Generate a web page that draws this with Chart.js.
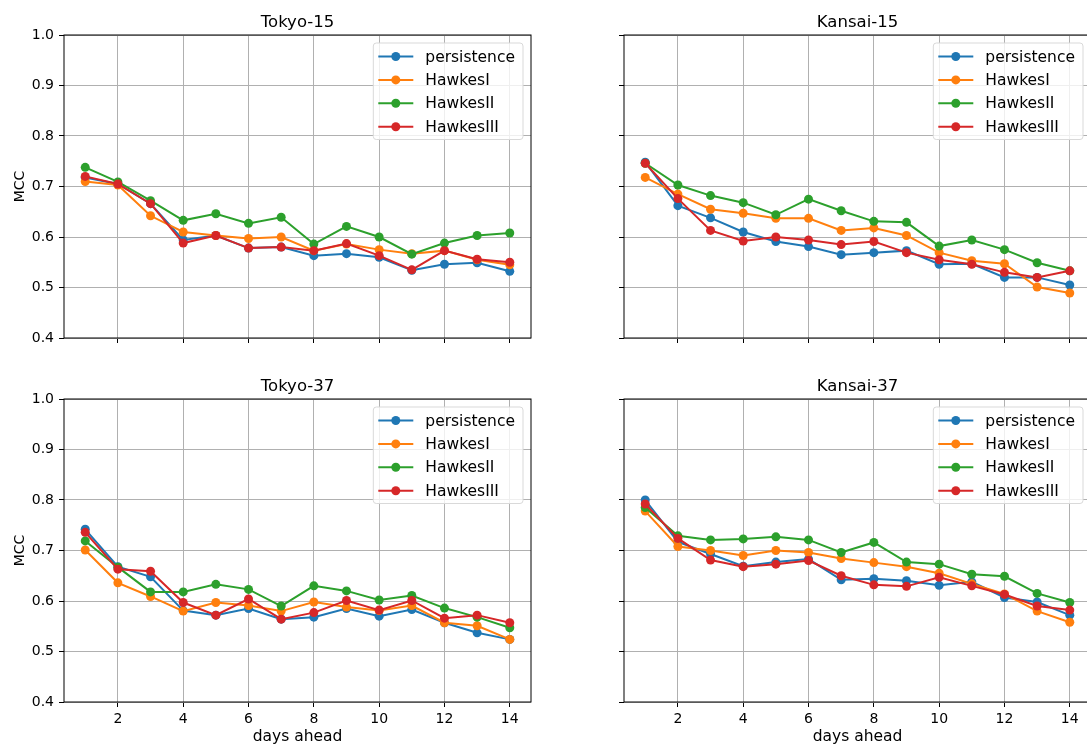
<!DOCTYPE html>
<html>
<head>
<meta charset="utf-8">
<script src="https://cdn.jsdelivr.net/npm/chart.js@4.4.0/dist/chart.umd.min.js"></script>
<style>
  html, body { margin: 0; padding: 0; background: #fff; overflow: hidden; width: 1087px; height: 746px; }
  canvas { position: absolute; }
</style>
</head>
<body>
<canvas id="tokyo15"></canvas>
<canvas id="kansai15"></canvas>
<canvas id="tokyo37"></canvas>
<canvas id="kansai37"></canvas>
<script>
// Forecast horizon and axis ticks
const days = [1, 2, 3, 4, 5, 6, 7, 8, 9, 10, 11, 12, 13, 14];
const xTickValues = [2, 4, 6, 8, 10, 12, 14];
const yTickValues = [0.4, 0.5, 0.6, 0.7, 0.8, 0.9, 1.0];
const seriesNames = ['persistence', 'HawkesI', 'HawkesII', 'HawkesIII'];
const seriesColors = ['#1f77b4', '#ff7f0e', '#2ca02c', '#d62728'];
const panelTitles = ['Tokyo-15', 'Kansai-15', 'Tokyo-37', 'Kansai-37'];

// MCC per forecast day — Tokyo-15
const tokyo15Persistence = [0.718, 0.705, 0.666, 0.594, 0.603, 0.578, 0.580, 0.563, 0.567, 0.560, 0.534, 0.546, 0.549, 0.532];
const tokyo15HawkesI     = [0.710, 0.703, 0.642, 0.610, 0.603, 0.597, 0.600, 0.573, 0.586, 0.575, 0.567, 0.573, 0.555, 0.545];
const tokyo15HawkesII    = [0.738, 0.709, 0.672, 0.633, 0.646, 0.627, 0.639, 0.586, 0.621, 0.600, 0.566, 0.588, 0.603, 0.608];
const tokyo15HawkesIII   = [0.720, 0.705, 0.666, 0.588, 0.603, 0.578, 0.580, 0.573, 0.587, 0.563, 0.535, 0.573, 0.556, 0.550];

// Kansai-15
const kansai15Persistence = [0.748, 0.662, 0.638, 0.610, 0.591, 0.581, 0.565, 0.569, 0.573, 0.546, 0.547, 0.520, 0.520, 0.505];
const kansai15HawkesI     = [0.718, 0.685, 0.655, 0.647, 0.637, 0.637, 0.613, 0.618, 0.603, 0.569, 0.553, 0.547, 0.501, 0.489];
const kansai15HawkesII    = [0.746, 0.703, 0.682, 0.668, 0.644, 0.675, 0.652, 0.631, 0.629, 0.582, 0.594, 0.575, 0.549, 0.533];
const kansai15HawkesIII   = [0.746, 0.676, 0.613, 0.592, 0.600, 0.594, 0.585, 0.591, 0.569, 0.555, 0.546, 0.530, 0.520, 0.533];

// Tokyo-37
const tokyo37Persistence = [0.742, 0.668, 0.648, 0.581, 0.572, 0.585, 0.564, 0.568, 0.585, 0.570, 0.583, 0.557, 0.537, 0.524];
const tokyo37HawkesI     = [0.701, 0.636, 0.609, 0.580, 0.597, 0.591, 0.580, 0.598, 0.588, 0.581, 0.591, 0.557, 0.551, 0.524];
const tokyo37HawkesII    = [0.719, 0.667, 0.618, 0.618, 0.633, 0.623, 0.590, 0.630, 0.620, 0.602, 0.611, 0.586, 0.568, 0.547];
const tokyo37HawkesIII   = [0.736, 0.663, 0.659, 0.597, 0.572, 0.604, 0.564, 0.577, 0.601, 0.582, 0.601, 0.566, 0.572, 0.557];

// Kansai-37
const kansai37Persistence = [0.800, 0.717, 0.693, 0.669, 0.677, 0.683, 0.642, 0.644, 0.640, 0.631, 0.638, 0.607, 0.598, 0.572];
const kansai37HawkesI     = [0.778, 0.708, 0.700, 0.690, 0.700, 0.696, 0.684, 0.676, 0.668, 0.655, 0.634, 0.614, 0.580, 0.558];
const kansai37HawkesII    = [0.785, 0.729, 0.721, 0.723, 0.727, 0.721, 0.696, 0.716, 0.677, 0.673, 0.653, 0.649, 0.615, 0.597];
const kansai37HawkesIII   = [0.792, 0.724, 0.681, 0.668, 0.673, 0.680, 0.650, 0.632, 0.629, 0.647, 0.630, 0.613, 0.590, 0.582];

const FONT = 'DejaVu Sans';

const panels = [
  { id: 'tokyo15',  title: panelTitles[0], series: [tokyo15Persistence, tokyo15HawkesI, tokyo15HawkesII, tokyo15HawkesIII],
    left: 0,   top: 0,   width: 550, height: 372, padTop: 35, padRight: 19, xAxisH: 34, yLabels: true,  xLabels: false },
  { id: 'kansai15', title: panelTitles[1], series: [kansai15Persistence, kansai15HawkesI, kansai15HawkesII, kansai15HawkesIII],
    left: 560, top: 0,   width: 545, height: 372, padTop: 35, padRight: 14, xAxisH: 34, yLabels: false, xLabels: false },
  { id: 'tokyo37',  title: panelTitles[2], series: [tokyo37Persistence, tokyo37HawkesI, tokyo37HawkesII, tokyo37HawkesIII],
    left: 0,   top: 372, width: 550, height: 374, padTop: 27, padRight: 19, xAxisH: 44, yLabels: true,  xLabels: true },
  { id: 'kansai37', title: panelTitles[3], series: [kansai37Persistence, kansai37HawkesI, kansai37HawkesII, kansai37HawkesIII],
    left: 560, top: 372, width: 545, height: 374, padTop: 27, padRight: 14, xAxisH: 44, yLabels: false, xLabels: true }
];

// Frame, titles, axis labels and an inset legend
const decorPlugin = {
  id: 'decor',
  afterDatasetsDraw(chart, args, opts) {
    const ctx = chart.ctx;
    const a = chart.chartArea;
    ctx.save();
    // axes frame
    ctx.strokeStyle = '#000';
    ctx.lineWidth = 1;
    ctx.strokeRect(a.left, a.top, a.right - a.left, a.bottom - a.top);

    // subplot title
    ctx.fillStyle = '#000';
    ctx.font = '16.5px "' + FONT + '"';
    ctx.textAlign = 'center';
    ctx.textBaseline = 'alphabetic';
    ctx.fillText(opts.title, (a.left + a.right) / 2, a.top - 8);

    // axis labels
    if (opts.yLabels) {
      ctx.save();
      ctx.font = '14px "' + FONT + '"';
      ctx.translate(20, (a.top + a.bottom) / 2);
      ctx.rotate(-Math.PI / 2);
      ctx.textBaseline = 'middle';
      ctx.fillText('MCC', 0, 0);
      ctx.restore();
    }
    if (opts.xLabels) {
      ctx.font = '15.5px "' + FONT + '"';
      ctx.textBaseline = 'alphabetic';
      ctx.fillText('days ahead', (a.left + a.right) / 2, a.bottom + 39);
    }

    // legend
    const fs = 15.5;
    ctx.font = fs + 'px "' + FONT + '"';
    const ds = chart.data.datasets;
    let maxW = 0;
    ds.forEach(d => { maxW = Math.max(maxW, ctx.measureText(d.label).width); });
    const boxW = 52 + maxW + 8;
    const boxH = 96.5;
    const bx = a.right - 8 - boxW;
    const by = a.top + 8;
    ctx.beginPath();
    ctx.roundRect(bx, by, boxW, boxH, 3);
    ctx.fillStyle = 'rgba(255,255,255,0.8)';
    ctx.fill();
    ctx.strokeStyle = '#d9d9d9';
    ctx.lineWidth = 1;
    ctx.stroke();
    ds.forEach((d, i) => {
      const ry = by + 13.5 + i * 23.4;
      ctx.strokeStyle = d.borderColor;
      ctx.lineWidth = 2;
      ctx.beginPath();
      ctx.moveTo(bx + 5, ry);
      ctx.lineTo(bx + 40, ry);
      ctx.stroke();
      ctx.fillStyle = d.borderColor;
      ctx.beginPath();
      ctx.arc(bx + 22.5, ry, 4.5, 0, Math.PI * 2);
      ctx.fill();
      ctx.fillStyle = '#000';
      ctx.textAlign = 'left';
      ctx.textBaseline = 'middle';
      ctx.fillText(d.label, bx + 52, ry + 1);
    });
    ctx.restore();
  }
};

function buildPanel(p) {
  const canvas = document.getElementById(p.id);
  canvas.width = p.width;
  canvas.height = p.height;
  canvas.style.left = p.left + 'px';
  canvas.style.top = p.top + 'px';
  canvas.style.width = p.width + 'px';
  canvas.style.height = p.height + 'px';

  const datasets = p.series.map((vals, i) => ({
    label: seriesNames[i],
    data: days.map((d, k) => ({ x: d, y: vals[k] })),
    borderColor: seriesColors[i],
    backgroundColor: seriesColors[i],
    pointBackgroundColor: seriesColors[i],
    pointBorderColor: seriesColors[i],
    pointBorderWidth: 0,
    pointRadius: 4.5,
    borderWidth: 2,
    tension: 0,
    order: seriesNames.length - 1 - i
  }));

  const tickFont = { family: FONT, size: 14 };

  new Chart(canvas, {
    type: 'line',
    data: { datasets },
    options: {
      responsive: false,
      animation: false,
      devicePixelRatio: 1,
      events: [],
      layout: { padding: { left: 0, top: p.padTop, right: p.padRight, bottom: 0 } },
      plugins: {
        legend: { display: false },
        title: { display: false },
        tooltip: { enabled: false },
        decor: { title: p.title, yLabels: p.yLabels, xLabels: p.xLabels }
      },
      scales: {
        x: {
          type: 'linear',
          min: 0.35,
          max: 14.65,
          afterBuildTicks: s => { s.ticks = xTickValues.map(v => ({ value: v })); },
          afterFit: s => { s.height = p.xAxisH; },
          ticks: {
            autoSkip: false, maxRotation: 0, padding: 4, color: '#000', font: tickFont,
            callback: v => (p.xLabels ? String(v) : '')
          },
          grid: { color: '#b0b0b0', lineWidth: 1, tickColor: '#000', tickLength: 5, drawTicks: true },
          border: { display: false }
        },
        y: {
          type: 'linear',
          min: 0.4,
          max: 1.0,
          afterBuildTicks: s => { s.ticks = yTickValues.map(v => ({ value: v })); },
          afterFit: s => { s.width = 64; },
          ticks: {
            padding: 5, color: '#000', font: tickFont,
            callback: v => (p.yLabels ? Number(v).toFixed(1) : '')
          },
          grid: { color: '#b0b0b0', lineWidth: 1, tickColor: '#000', tickLength: 5, drawTicks: true },
          border: { display: false }
        }
      }
    },
    plugins: [decorPlugin]
  });
}

panels.forEach(buildPanel);
</script>
</body>
</html>
